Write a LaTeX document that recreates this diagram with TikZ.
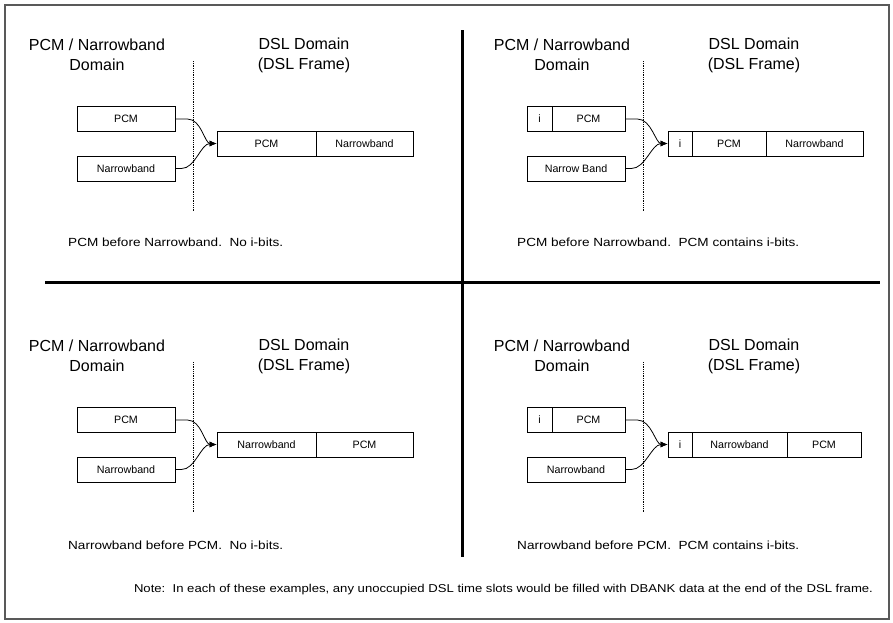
\documentclass[tikz,border=0pt]{standalone}
\usepackage{fontspec}
\setmainfont{Liberation Sans}
\newfontfamily\widesans[FakeStretch=1.15]{Liberation Sans}
\usetikzlibrary{arrows.meta}
\tikzset{
  cell/.style={draw, line width=0.8pt, minimum height=25pt, inner sep=0pt,
               font=\fontsize{10.7}{12}\selectfont},
  ttl/.style={align=center, font=\fontsize{16}{20}\selectfont},
  caption text/.style={anchor=west, inner sep=0pt, font=\widesans\fontsize{11.8}{14}\selectfont},
  feed/.style={line width=0.8pt, -{Latex[length=7pt,width=6pt]}},
  border/.style={densely dotted, line width=0.8pt},
  rule/.style={line width=3pt},
}
\begin{document}
\begin{tikzpicture}[x=1pt, y=-1pt]
\useasboundingbox (0,0) rectangle (893,622);
\draw[black!65, line width=1.3pt] (5,5) rectangle (889,619);

% quadrant separators
\coordinate (vt) at (462,30);  \coordinate (vb) at (462,557);
\coordinate (hl) at (45,282);  \coordinate (hr) at (880,282);
\draw[rule] (vt) -- (vb);
\draw[rule] (hl) -- (hr);

% ---------- top left: PCM before Narrowband, no i-bits
\node[ttl] (q1ta) at (97,55) {PCM / Narrowband\\Domain};
\node[ttl] (q1tb) at (304,55) {DSL Domain\\(DSL Frame)};
\coordinate (q1dt) at (193,61); \coordinate (q1db) at (193,212);
\draw[border] (q1dt) -- (q1db);
\node[cell, minimum width=98pt] (q1pcm) at (126,119) {PCM};
\node[cell, minimum width=98pt] (q1nb) at (126,168.5) {Narrowband};
\node[cell, minimum width=99pt] (q1f1) at (266.5,143.5) {PCM};
\node[cell, minimum width=97pt] (q1f2) at (364.5,143.5) {Narrowband};
\draw[feed] (q1pcm.east) -- ++(12,0) .. controls +(14,0) and +(-12,0) .. (q1f1.west);
\draw[feed] (q1nb.east) -- ++(6,0) .. controls +(14,0) and +(-16,0) .. (q1f1.west);
\node[caption text] (q1c) at (68,242) {PCM before Narrowband.\ \ No i-bits.};

% ---------- top right: PCM before Narrowband, PCM carries i-bits
\node[ttl] (q2ta) at (562,55) {PCM / Narrowband\\Domain};
\node[ttl] (q2tb) at (754,55) {DSL Domain\\(DSL Frame)};
\coordinate (q2dt) at (643,61); \coordinate (q2db) at (643,212);
\draw[border] (q2dt) -- (q2db);
\node[cell, minimum width=25pt] (q2i) at (539.5,119) {i};
\node[cell, minimum width=73pt] (q2pcm) at (588.5,119) {PCM};
\node[cell, minimum width=98pt] (q2nb) at (576,168.5) {Narrow Band};
\node[cell, minimum width=24pt] (q2f0) at (680,143.5) {i};
\node[cell, minimum width=74pt] (q2f1) at (729,143.5) {PCM};
\node[cell, minimum width=97pt] (q2f2) at (814.5,143.5) {Narrowband};
\draw[feed] (q2pcm.east) -- ++(12,0) .. controls +(14,0) and +(-12,0) .. (q2f0.west);
\draw[feed] (q2nb.east) -- ++(6,0) .. controls +(14,0) and +(-16,0) .. (q2f0.west);
\node[caption text] (q2c) at (517,242) {PCM before Narrowband.\ \ PCM contains i-bits.};

% ---------- bottom left: Narrowband before PCM, no i-bits
\node[ttl] (q3ta) at (97,356) {PCM / Narrowband\\Domain};
\node[ttl] (q3tb) at (304,356) {DSL Domain\\(DSL Frame)};
\coordinate (q3dt) at (193,362); \coordinate (q3db) at (193,513);
\draw[border] (q3dt) -- (q3db);
\node[cell, minimum width=98pt] (q3pcm) at (126,420) {PCM};
\node[cell, minimum width=98pt] (q3nb) at (126,469.5) {Narrowband};
\node[cell, minimum width=99pt] (q3f1) at (266.5,444.5) {Narrowband};
\node[cell, minimum width=97pt] (q3f2) at (364.5,444.5) {PCM};
\draw[feed] (q3pcm.east) -- ++(12,0) .. controls +(14,0) and +(-12,0) .. (q3f1.west);
\draw[feed] (q3nb.east) -- ++(6,0) .. controls +(14,0) and +(-16,0) .. (q3f1.west);
\node[caption text] (q3c) at (68,545) {Narrowband before PCM.\ \ No i-bits.};

% ---------- bottom right: Narrowband before PCM, PCM carries i-bits
\node[ttl] (q4ta) at (562,356) {PCM / Narrowband\\Domain};
\node[ttl] (q4tb) at (754,356) {DSL Domain\\(DSL Frame)};
\coordinate (q4dt) at (643,362); \coordinate (q4db) at (643,513);
\draw[border] (q4dt) -- (q4db);
\node[cell, minimum width=25pt] (q4i) at (539.5,420) {i};
\node[cell, minimum width=73pt] (q4pcm) at (588.5,420) {PCM};
\node[cell, minimum width=98pt] (q4nb) at (576,469.5) {Narrowband};
\node[cell, minimum width=24pt] (q4f0) at (680,444.5) {i};
\node[cell, minimum width=95pt] (q4f1) at (739.5,444.5) {Narrowband};
\node[cell, minimum width=74pt] (q4f2) at (824,444.5) {PCM};
\draw[feed] (q4pcm.east) -- ++(12,0) .. controls +(14,0) and +(-12,0) .. (q4f0.west);
\draw[feed] (q4nb.east) -- ++(6,0) .. controls +(14,0) and +(-16,0) .. (q4f0.west);
\node[caption text] (q4c) at (517,545) {Narrowband before PCM.\ \ PCM contains i-bits.};

% ---------- footnote
\node[inner sep=0pt, font=\widesans\fontsize{11.4}{14}\selectfont] (note) at (503.5,590)
  {Note:\ \ In each of these examples, any unoccupied DSL time slots would be filled with DBANK data at the end of the DSL frame.};
\end{tikzpicture}
\end{document}
